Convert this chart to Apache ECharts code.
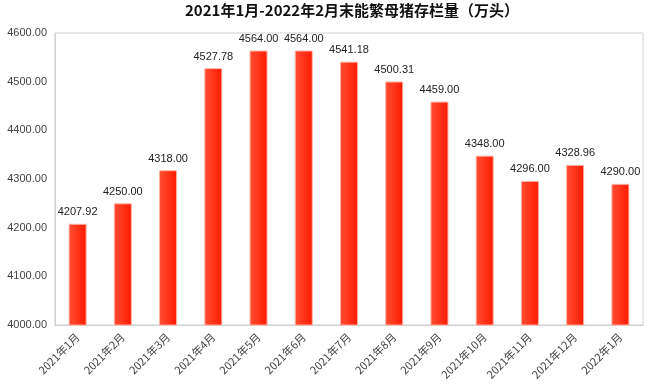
<!DOCTYPE html>
<html><head><meta charset="utf-8">
<script src="https://cdn.jsdelivr.net/npm/echarts@6/dist/echarts.min.js"></script>
<style>html,body{margin:0;padding:0;background:#fff}#c{width:650px;height:385px}</style>
</head><body><div id="c"></div>
<script>
var titleText = '2021年1月-2022年2月末能繁母猪存栏量（万头）';
var categories = ['2021年1月','2021年2月','2021年3月','2021年4月','2021年5月','2021年6月','2021年7月','2021年8月','2021年9月','2021年10月','2021年11月','2021年12月','2022年1月'];
var values = [4207.92, 4250.00, 4318.00, 4527.78, 4564.00, 4564.00, 4541.18, 4500.31, 4459.00, 4348.00, 4296.00, 4328.96, 4290.00];
var yMin = 4000, yMax = 4600, yStep = 100;

var chart = echarts.init(document.getElementById('c'));
chart.setOption({
  animation: false,
  title: {text: titleText, left: 180, top: -2,
    textStyle: {fontSize: 15, fontWeight: 'bold', color: '#111', fontFamily: 'Noto Sans CJK SC'}},
  grid: {left: 55, right: 7, top: 33, bottom: 60, show: true, borderColor: '#d0d0d0', borderWidth: 1},
  xAxis: {type: 'category', data: categories,
    axisLine: {lineStyle: {color: '#cfcfcf'}}, axisTick: {show: false},
    axisLabel: {rotate: 45, color: '#444', fontSize: 11, interval: 0, margin: 10, fontFamily: 'Noto Sans CJK SC'}},
  yAxis: {type: 'value', min: yMin, max: yMax, interval: yStep,
    axisLine: {show: true, lineStyle: {color: '#cfcfcf'}}, axisTick: {show: false}, splitLine: {show: false},
    axisLabel: {color: '#444', fontSize: 11, formatter: function(v){return v.toFixed(2);}}},
  series: [{type: 'bar', data: values, barWidth: 18,
    itemStyle: {color: new echarts.graphic.LinearGradient(0,0,1,0,[{offset:0,color:'#ff4e33'},{offset:1,color:'#ff1a00'}]),
      borderColor: '#ffb0a0', borderWidth: 1},
    label: {show: true, position: 'top', color: '#222', fontSize: 11, distance: 6,
      formatter: function(p){return p.value.toFixed(2);}}}]
});
</script></body></html>
